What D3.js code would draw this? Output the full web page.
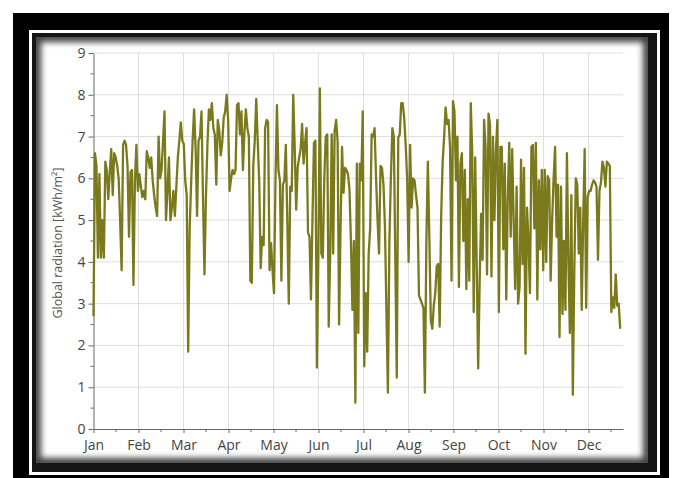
<!DOCTYPE html>
<html>
<head>
<meta charset="utf-8">
<script src="https://cdn.jsdelivr.net/npm/d3@7"></script>
<style>
  html, body { margin: 0; padding: 0; background: #fff; }
  svg { display: block; font-family: "Open Sans", "Noto Sans", sans-serif; }
</style>
</head>
<body>
<div id="chart"></div>
<script>
// daily global radiation, kWh/m2
const monthNames = ["Jan", "Feb", "Mar", "Apr", "May", "Jun", "Jul", "Aug", "Sep", "Oct", "Nov", "Dec"];

const jan = [2.7, 6.6, 6.3, 4.1, 6.1, 4.1, 5.0, 4.1, 6.4, 6.2, 5.5, 6.15, 6.7, 5.6, 6.6, 6.5,
  6.3, 6.0, 5.0, 3.8, 6.8, 6.9, 6.8, 6.3, 4.6, 6.15, 6.2, 3.45, 5.95, 6.8, 5.7];
const feb = [6.1, 5.8, 5.55, 5.7, 5.5, 6.65, 6.5, 6.25, 6.5, 5.95, 5.6, 5.3, 5.1, 7.0, 6.0, 6.2,
  6.9, 7.6, 5.0, 5.7, 6.5, 5.0, 5.3, 5.7, 5.1, 5.8, 6.5, 6.9];
const mar = [7.34, 6.9, 6.83, 5.95, 5.6, 1.85, 4.8, 5.9, 6.9, 7.65, 6.75, 5.1, 6.9, 7.0, 7.6, 5.55,
  3.7, 5.55, 6.8, 7.65, 7.4, 7.8, 7.2, 7.05, 5.85, 7.4, 7.15, 6.55, 6.85, 7.45, 7.6];
const apr = [8.0, 7.4, 5.7, 6.0, 6.2, 6.1, 6.2, 7.75, 7.8, 7.05, 7.6, 6.2, 7.1, 7.65, 7.2, 7.0,
  3.55, 3.5, 6.3, 6.9, 7.9, 6.9, 5.95, 3.85, 4.6, 4.4, 7.2, 7.4, 7.35, 3.8];
const may = [4.45, 3.8, 3.25, 5.95, 7.75, 6.2, 5.95, 3.55, 5.85, 5.95, 6.8, 5.0, 3.0, 5.8, 5.7, 8.0,
  6.75, 5.25, 6.25, 6.5, 6.7, 7.3, 6.35, 6.85, 7.2, 4.7, 4.6, 3.1, 5.0, 6.85, 6.9];
const jun = [1.47, 4.2, 8.15, 4.2, 4.1, 6.0, 7.0, 7.05, 2.45, 4.2, 7.05, 4.2, 7.15, 7.4, 6.9, 2.5,
  4.85, 6.75, 5.65, 6.25, 6.2, 6.1, 5.75, 4.5, 2.85, 4.5, 0.63, 6.35, 2.3, 6.35];
const jul = [5.95, 7.6, 1.5, 3.25, 1.85, 4.2, 4.8, 7.05, 7.0, 7.2, 6.0, 5.0, 4.2, 6.3, 6.25, 5.85,
  4.85, 2.8, 0.87, 4.5, 6.0, 7.2, 7.0, 4.05, 1.23, 6.98, 7.05, 7.8, 7.8, 7.45, 6.8];
const aug = [6.0, 4.0, 6.8, 5.3, 6.0, 5.95, 5.6, 5.3, 3.2, 3.1, 3.0, 2.9, 0.87, 4.5, 6.4, 4.6,
  2.6, 2.4, 2.95, 3.25, 3.9, 3.95, 2.45, 5.1, 6.4, 7.0, 7.7, 7.3, 7.4, 6.75, 3.55];
const sep = [7.85, 7.6, 5.95, 7.0, 3.4, 6.35, 6.6, 4.5, 6.2, 3.35, 5.5, 3.55, 7.8, 6.6, 2.8, 6.5,
  4.0, 1.45, 3.5, 5.15, 4.05, 7.4, 6.75, 3.7, 7.55, 7.3, 3.65, 7.0, 5.0, 6.65];
const oct = [7.4, 2.8, 6.75, 6.75, 4.3, 6.35, 3.1, 5.5, 6.85, 4.6, 6.7, 5.0, 3.35, 5.8, 3.0, 3.4,
  6.45, 3.95, 6.25, 1.8, 5.3, 4.5, 3.25, 6.75, 6.8, 4.8, 6.85, 3.1, 5.95, 4.3, 6.2];
const nov = [3.8, 6.2, 4.0, 6.05, 5.95, 3.55, 5.0, 6.0, 6.75, 4.6, 5.85, 2.2, 5.8, 2.75, 4.5, 2.85,
  6.6, 4.0, 2.3, 5.6, 0.82, 3.8, 6.0, 5.85, 4.2, 5.3, 2.85, 5.0, 6.7, 2.9];
const dec = [5.55, 5.7, 5.7, 5.85, 5.95, 5.9, 5.8, 4.05, 5.7, 5.9, 6.4, 6.25, 5.8, 6.4, 6.35, 6.3,
  2.8, 3.15, 2.9, 3.7, 2.95, 3.0, 2.4];

const radiation = [].concat(jan, feb, mar, apr, may, jun, jul, aug, sep, oct, nov, dec);
const yTicks = [0, 1, 2, 3, 4, 5, 6, 7, 8, 9];

const width = 673, height = 478;
const plot = { left: 93.5, right: 623, top: 53, bottom: 429 };
const daysPerMonth = 365 / 12;
const monthPx = 45;

const svg = d3.select("#chart").append("svg")
    .attr("width", width)
    .attr("height", height);

const defs = svg.append("defs");
defs.append("filter").attr("id", "soft")
    .attr("x", "-10%").attr("y", "-10%").attr("width", "120%").attr("height", "120%")
    .append("feGaussianBlur").attr("stdDeviation", 3);
defs.append("clipPath").attr("id", "panelClip")
    .append("rect").attr("x", 36).attr("y", 37).attr("width", 612).attr("height", 426);

// picture frame
svg.append("rect").attr("x", 13).attr("y", 13).attr("width", 656).attr("height", 470).attr("fill", "#000");
svg.append("rect").attr("x", 32).attr("y", 33).attr("width", 625).attr("height", 439).attr("fill", "#151515");
svg.append("rect").attr("x", 30.5).attr("y", 31.5).attr("width", 628).attr("height", 442)
    .attr("fill", "none").attr("stroke", "#fff").attr("stroke-width", 3);
svg.append("rect").attr("x", 36).attr("y", 37).attr("width", 612).attr("height", 426).attr("fill", "#fff");
// inner shadow of the panel
svg.append("g").attr("clip-path", "url(#panelClip)")
  .append("rect").attr("x", 36).attr("y", 37).attr("width", 612).attr("height", 426)
    .attr("fill", "none").attr("stroke", "#000").attr("stroke-width", 10)
    .attr("opacity", 0.75).attr("filter", "url(#soft)");

// Scales
const xEnd = (plot.right - plot.left) / monthPx * daysPerMonth;
const xScale = d3.scaleLinear().domain([0, xEnd]).range([plot.left, plot.right]);
const yScale = d3.scaleLinear().domain([0, 9]).range([plot.bottom, plot.top]);

const monthTicks = d3.range(12).map(i => i * daysPerMonth);
const minorX = d3.range(12).map(i => (i + 0.5) * daysPerMonth).filter(d => d <= xEnd);
const minorY = d3.range(9).map(i => i + 0.5);

const g = svg.append("g");

// grid
g.append("g").selectAll("line").data(yTicks.slice(1)).join("line")
    .attr("x1", plot.left).attr("x2", plot.right)
    .attr("y1", d => yScale(d)).attr("y2", d => yScale(d))
    .attr("stroke", "#dedede").attr("stroke-width", 1);
g.append("g").selectAll("line").data(monthTicks.slice(1)).join("line")
    .attr("x1", d => xScale(d)).attr("x2", d => xScale(d))
    .attr("y1", plot.top).attr("y2", plot.bottom)
    .attr("stroke", "#dedede").attr("stroke-width", 1);

// Axis generators
const xAxisCall = d3.axisBottom(xScale)
    .tickValues(monthTicks)
    .tickFormat((d, i) => monthNames[i])
    .tickSize(4).tickSizeOuter(0).tickPadding(7);
const yAxisCall = d3.axisLeft(yScale)
    .tickValues(yTicks)
    .tickFormat(d3.format("d"))
    .tickSize(5).tickSizeOuter(0).tickPadding(3);

const xAxis = g.append("g").attr("transform", "translate(0," + plot.bottom + ")").call(xAxisCall);
const yAxis = g.append("g").attr("transform", "translate(" + plot.left + ",0)").call(yAxisCall);

// minor ticks
xAxis.append("g").selectAll("line").data(minorX).join("line")
    .attr("x1", d => xScale(d)).attr("x2", d => xScale(d))
    .attr("y1", 0).attr("y2", 3);
yAxis.append("g").selectAll("line").data(minorY).join("line")
    .attr("x1", -3).attr("x2", 0)
    .attr("y1", d => yScale(d)).attr("y2", d => yScale(d));

[xAxis, yAxis].forEach(a => {
  a.selectAll("path.domain").attr("stroke", "#666");
  a.selectAll("line").attr("stroke", "#666");
  a.selectAll("text").attr("fill", "#444").style("font-size", "14px")
      .style("font-family", "'Open Sans', 'Noto Sans', sans-serif");
});

// Y-Axis label
g.append("text")
    .attr("transform", "translate(62," + ((plot.top + plot.bottom) / 2 + 2) + ") rotate(-90)")
    .attr("text-anchor", "middle")
    .attr("fill", "#555")
    .style("font-size", "12.5px")
    .text("Global radiation [kWh/m²]");

// data line
const line = d3.line()
    .x((d, i) => xScale(i))
    .y(d => yScale(d));

g.append("path")
    .attr("fill", "none")
    .attr("stroke", "#7a7a1c")
    .attr("stroke-width", 2.3)
    .attr("stroke-linejoin", "round")
    .attr("d", line(radiation));
</script>
</body>
</html>
